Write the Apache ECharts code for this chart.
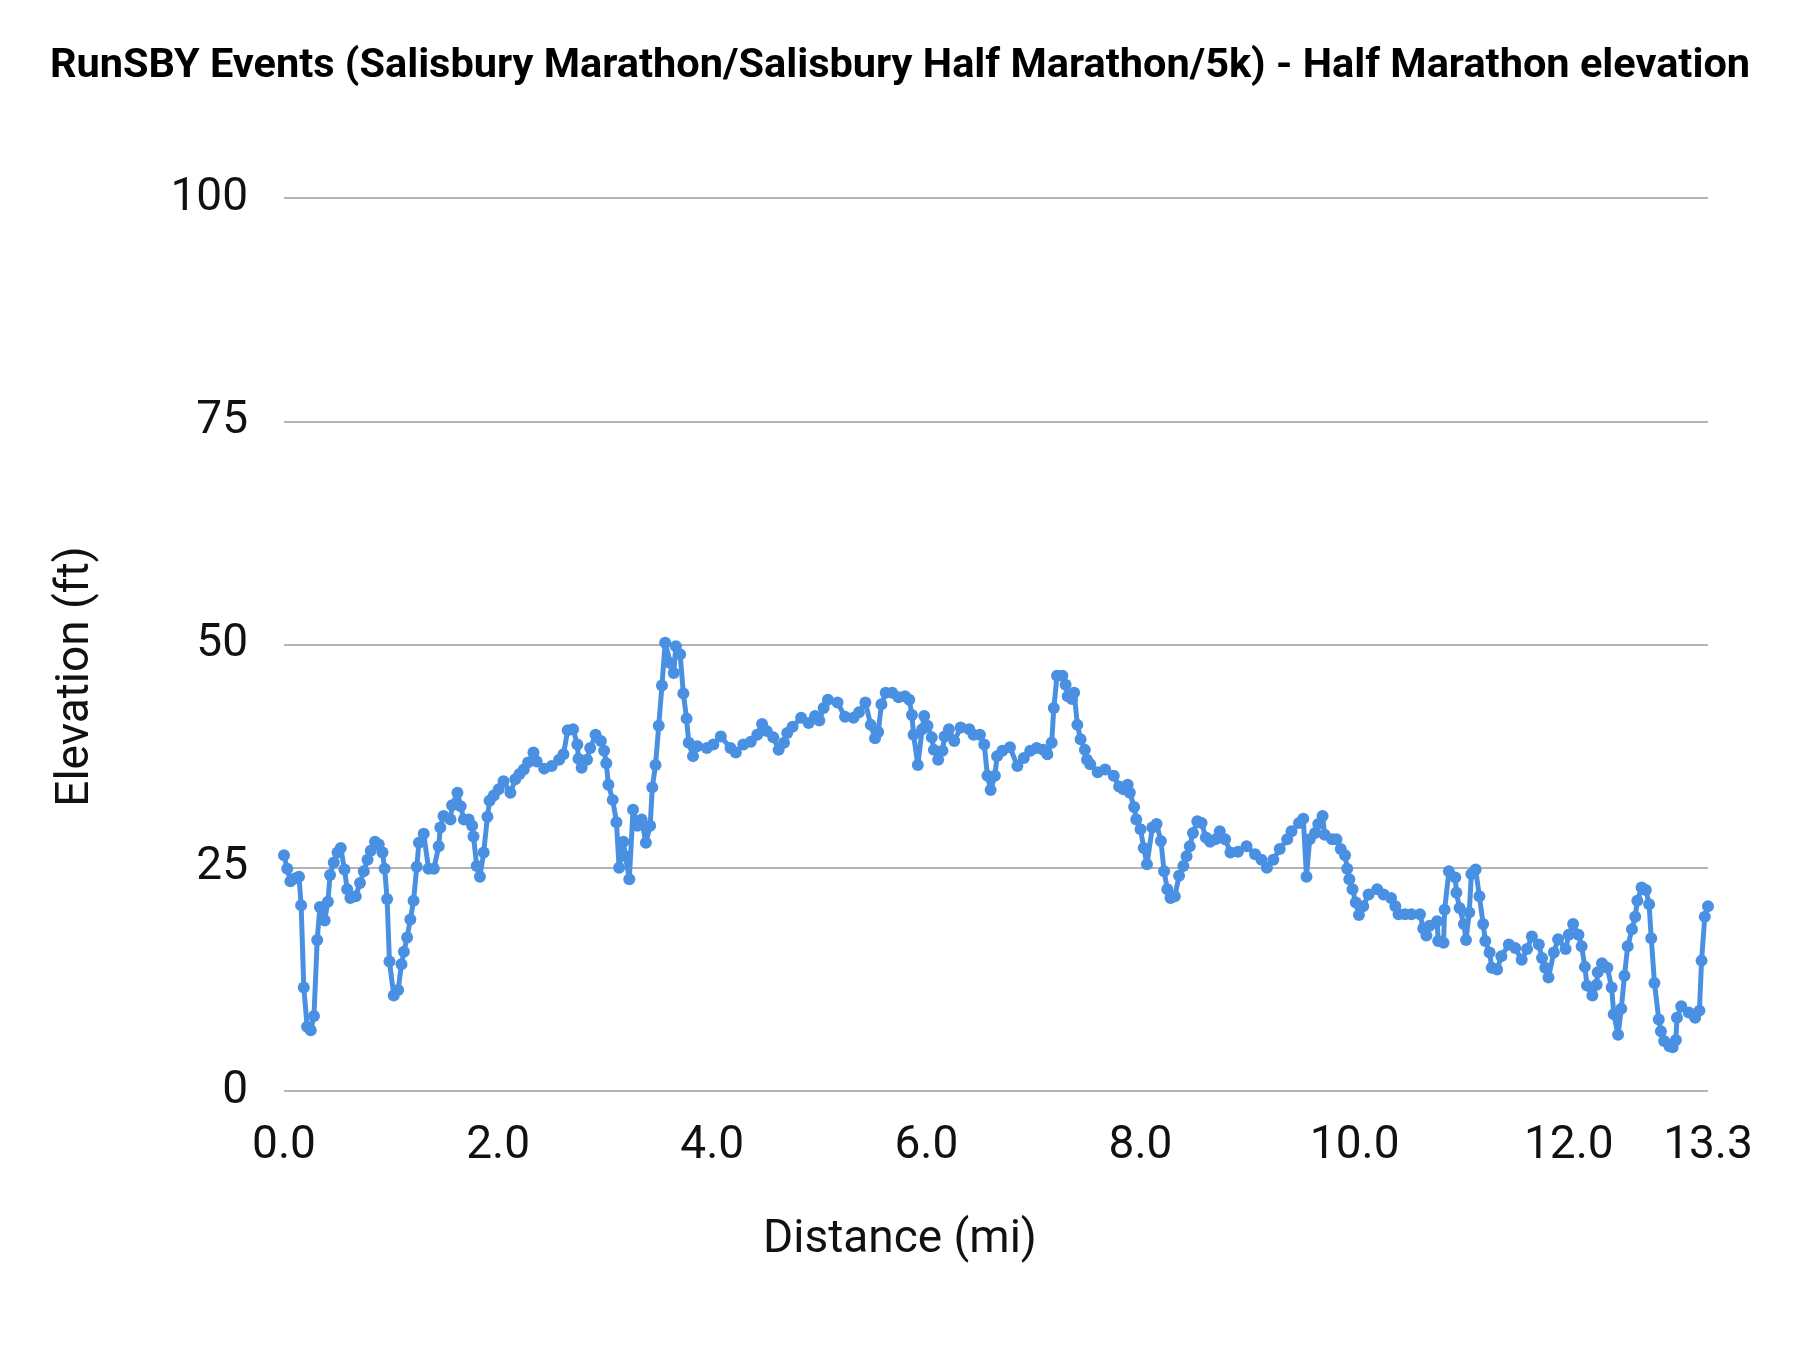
<!DOCTYPE html>
<html>
<head>
<meta charset="utf-8">
<script src="https://cdn.jsdelivr.net/npm/echarts@6/dist/echarts.min.js"></script>
<style>
  html, body { margin: 0; padding: 0; background: #fff; }
  #chart { width: 1800px; height: 1350px; }
</style>
</head>
<body>
<div id="chart"></div>
<script>
// distance along the course (mi)
const distances = [
  0.00, 0.03, 0.06, 0.10, 0.14, 0.16, 0.185, 0.216, 0.25, 0.28, 0.31, 0.335, 0.38, 0.41, 0.43, 0.465,
  0.50, 0.53, 0.565, 0.59, 0.62, 0.67, 0.71, 0.745, 0.78, 0.81, 0.85, 0.885, 0.92, 0.94, 0.963, 0.985,
  1.025, 1.066, 1.097, 1.12, 1.15, 1.18, 1.21, 1.24, 1.26, 1.305, 1.35, 1.40, 1.445, 1.46, 1.49, 1.555,
  1.57, 1.62, 1.65, 1.68, 1.725, 1.757, 1.77, 1.80, 1.83, 1.865, 1.90, 1.92, 1.96, 2.005, 2.05, 2.115,
  2.16, 2.20, 2.24, 2.28, 2.33, 2.36, 2.43, 2.50, 2.57, 2.61, 2.65, 2.70, 2.74, 2.75, 2.78, 2.83,
  2.86, 2.91, 2.96, 2.99, 3.01, 3.03, 3.07, 3.105, 3.13, 3.17, 3.19, 3.225, 3.26, 3.30, 3.34, 3.38,
  3.42, 3.44, 3.47, 3.50, 3.53, 3.56, 3.61, 3.64, 3.66, 3.70, 3.73, 3.76, 3.78, 3.82, 3.86, 3.95,
  4.01, 4.08, 4.17, 4.22, 4.29, 4.36, 4.42, 4.465, 4.51, 4.57, 4.62, 4.67, 4.70, 4.75, 4.83, 4.90,
  4.96, 5.00, 5.04, 5.08, 5.17, 5.24, 5.32, 5.37, 5.43, 5.48, 5.52, 5.55, 5.58, 5.62, 5.68, 5.74,
  5.80, 5.84, 5.865, 5.88, 5.92, 5.96, 5.98, 6.01, 6.05, 6.07, 6.11, 6.15, 6.17, 6.21, 6.26, 6.32,
  6.40, 6.44, 6.50, 6.54, 6.57, 6.60, 6.64, 6.66, 6.71, 6.78, 6.85, 6.91, 6.97, 7.03, 7.09, 7.13,
  7.17, 7.19, 7.22, 7.27, 7.30, 7.32, 7.36, 7.38, 7.41, 7.44, 7.48, 7.50, 7.53, 7.60, 7.67, 7.75,
  7.80, 7.84, 7.88, 7.90, 7.94, 7.96, 8.00, 8.03, 8.06, 8.11, 8.15, 8.19, 8.22, 8.25, 8.28, 8.32,
  8.36, 8.40, 8.43, 8.46, 8.49, 8.53, 8.57, 8.61, 8.65, 8.70, 8.74, 8.79, 8.84, 8.91, 8.99, 9.07,
  9.13, 9.18, 9.24, 9.30, 9.37, 9.41, 9.48, 9.52, 9.55, 9.58, 9.63, 9.66, 9.70, 9.72, 9.79, 9.83,
  9.87, 9.91, 9.93, 9.95, 9.98, 10.01, 10.04, 10.08, 10.13, 10.21, 10.27, 10.34, 10.38, 10.41, 10.47, 10.53,
  10.61, 10.64, 10.67, 10.70, 10.77, 10.78, 10.83, 10.84, 10.88, 10.94, 10.95, 10.98, 11.02, 11.04, 11.07, 11.09,
  11.13, 11.165, 11.20, 11.22, 11.26, 11.28, 11.33, 11.37, 11.44, 11.50, 11.56, 11.61, 11.655, 11.72, 11.75, 11.78,
  11.81, 11.86, 11.90, 11.97, 12.00, 12.04, 12.09, 12.12, 12.15, 12.17, 12.22, 12.26, 12.27, 12.31, 12.36, 12.40,
  12.42, 12.46, 12.49, 12.52, 12.55, 12.59, 12.62, 12.64, 12.68, 12.72, 12.75, 12.77, 12.80, 12.84, 12.86, 12.89,
  12.94, 12.97, 13.00, 13.01, 13.05, 13.12, 13.18, 13.22, 13.24, 13.27, 13.30
];

// elevation (ft)
const elevations = [
  26.4, 24.9, 23.5, 23.8, 24.0, 20.8, 11.6, 7.2, 6.8, 8.4, 16.9, 20.6, 19.1, 21.2, 24.2, 25.6,
  26.7, 27.2, 24.8, 22.6, 21.6, 21.8, 23.3, 24.6, 25.9, 26.9, 27.9, 27.6, 26.7, 24.9, 21.5, 14.5,
  10.7, 11.3, 14.2, 15.6, 17.2, 19.2, 21.3, 25.1, 27.8, 28.8, 24.9, 24.9, 27.4, 29.5, 30.8, 30.4,
  32.0, 33.4, 31.9, 30.4, 30.4, 29.7, 28.5, 25.2, 24.0, 26.7, 30.7, 32.5, 33.1, 33.8, 34.7, 33.4,
  34.9, 35.5, 36.0, 36.8, 37.9, 36.9, 36.1, 36.4, 37.1, 37.7, 40.4, 40.5, 38.8, 37.2, 36.2, 37.1,
  38.4, 39.9, 39.2, 38.1, 36.7, 34.3, 32.6, 30.1, 25.0, 27.9, 26.3, 23.7, 31.5, 29.7, 30.4, 27.8,
  29.7, 34.0, 36.5, 40.9, 45.4, 50.2, 47.9, 46.8, 49.8, 48.9, 44.5, 41.7, 39.0, 37.5, 38.6, 38.4,
  38.8, 39.7, 38.4, 37.9, 38.8, 39.1, 39.9, 41.1, 40.3, 39.6, 38.2, 39.0, 40.1, 40.8, 41.8, 41.2,
  42.0, 41.5, 42.9, 43.8, 43.5, 41.9, 41.8, 42.4, 43.5, 41.0, 39.5, 40.2, 43.3, 44.6, 44.6, 44.1,
  44.2, 43.8, 42.1, 39.9, 36.5, 40.5, 42.0, 40.9, 39.6, 38.2, 37.1, 38.1, 39.7, 40.5, 39.2, 40.7,
  40.5, 39.9, 39.9, 38.8, 35.3, 33.7, 35.3, 37.5, 38.1, 38.5, 36.4, 37.3, 38.1, 38.4, 38.2, 37.7,
  39.0, 42.9, 46.5, 46.5, 45.5, 44.2, 43.9, 44.6, 41.0, 39.4, 38.2, 37.1, 36.6, 35.7, 36.0, 35.3,
  34.1, 33.8, 34.3, 33.4, 31.8, 30.4, 29.3, 27.2, 25.4, 29.5, 29.9, 28.0, 24.6, 22.6, 21.6, 21.8,
  24.1, 25.2, 26.3, 27.4, 28.9, 30.2, 30.0, 28.4, 27.9, 28.2, 29.1, 28.2, 26.7, 26.8, 27.4, 26.5,
  25.9, 25.0, 25.9, 27.1, 28.2, 29.1, 30.0, 30.5, 24.0, 28.2, 28.9, 29.9, 30.8, 28.7, 28.2, 28.2,
  27.1, 26.4, 24.9, 23.7, 22.6, 21.1, 19.7, 20.7, 22.0, 22.6, 22.0, 21.6, 20.7, 19.8, 19.8, 19.8,
  19.8, 18.2, 17.4, 18.5, 19.0, 16.8, 16.6, 20.3, 24.6, 23.9, 22.2, 20.5, 18.7, 16.9, 20.0, 24.3,
  24.8, 21.8, 18.7, 16.8, 15.5, 13.8, 13.6, 15.1, 16.4, 16.0, 14.7, 15.9, 17.3, 16.4, 14.9, 13.8,
  12.7, 15.5, 17.0, 15.9, 17.5, 18.7, 17.5, 16.2, 13.9, 11.8, 10.7, 11.9, 13.3, 14.3, 13.8, 11.6,
  8.6, 6.3, 9.2, 12.9, 16.2, 18.1, 19.5, 21.3, 22.8, 22.5, 20.9, 17.1, 12.1, 8.0, 6.7, 5.6,
  5.0, 4.9, 5.7, 8.2, 9.5, 8.8, 8.2, 9.0, 14.6, 19.5, 20.7
];

const points = distances.map((d, i) => [d, elevations[i]]);

const chart = echarts.init(document.getElementById('chart'));
chart.setOption({
  backgroundColor: '#ffffff',
  textStyle: { fontFamily: 'Roboto' },
  animation: false,
  title: {
    text: 'RunSBY Events (Salisbury Marathon/Salisbury Half Marathon/5k) - Half Marathon elevation',
    left: 'center',
    top: 41,
    textStyle: { fontFamily: 'Roboto', fontWeight: 'bold', fontSize: 41.5, color: '#000' }
  },
  grid: { left: 284, right: 92, top: 198, bottom: 259, containLabel: false },
  xAxis: {
    type: 'value',
    min: 0,
    max: 13.3,
    interval: 2,
    name: 'Distance (mi)',
    nameLocation: 'middle',
    nameGap: 126,
    nameTextStyle: { fontSize: 46, color: '#111', padding: [0, 192, 0, 0] },
    axisLine: { show: false },
    axisTick: { show: false },
    splitLine: { show: false },
    axisLabel: {
      fontSize: 46,
      color: '#111',
      margin: 32,
      formatter: v => v.toFixed(1)
    }
  },
  yAxis: {
    type: 'value',
    min: 0,
    max: 100,
    interval: 25,
    name: 'Elevation (ft)',
    nameLocation: 'middle',
    nameGap: 185,
    nameTextStyle: { fontSize: 46, color: '#111', padding: [0, 64, 0, 0] },
    axisLine: { show: false },
    axisTick: { show: false },
    splitLine: { lineStyle: { color: '#b3b3b3', width: 2 } },
    axisLabel: { fontSize: 46, color: '#111', margin: 36 }
  },
  series: [{
    type: 'line',
    data: points,
    symbol: 'circle',
    symbolSize: 12,
    showAllSymbol: true,
    lineStyle: { color: '#4a90e2', width: 5 },
    itemStyle: { color: '#4a90e2' }
  }]
});
</script>
</body>
</html>
